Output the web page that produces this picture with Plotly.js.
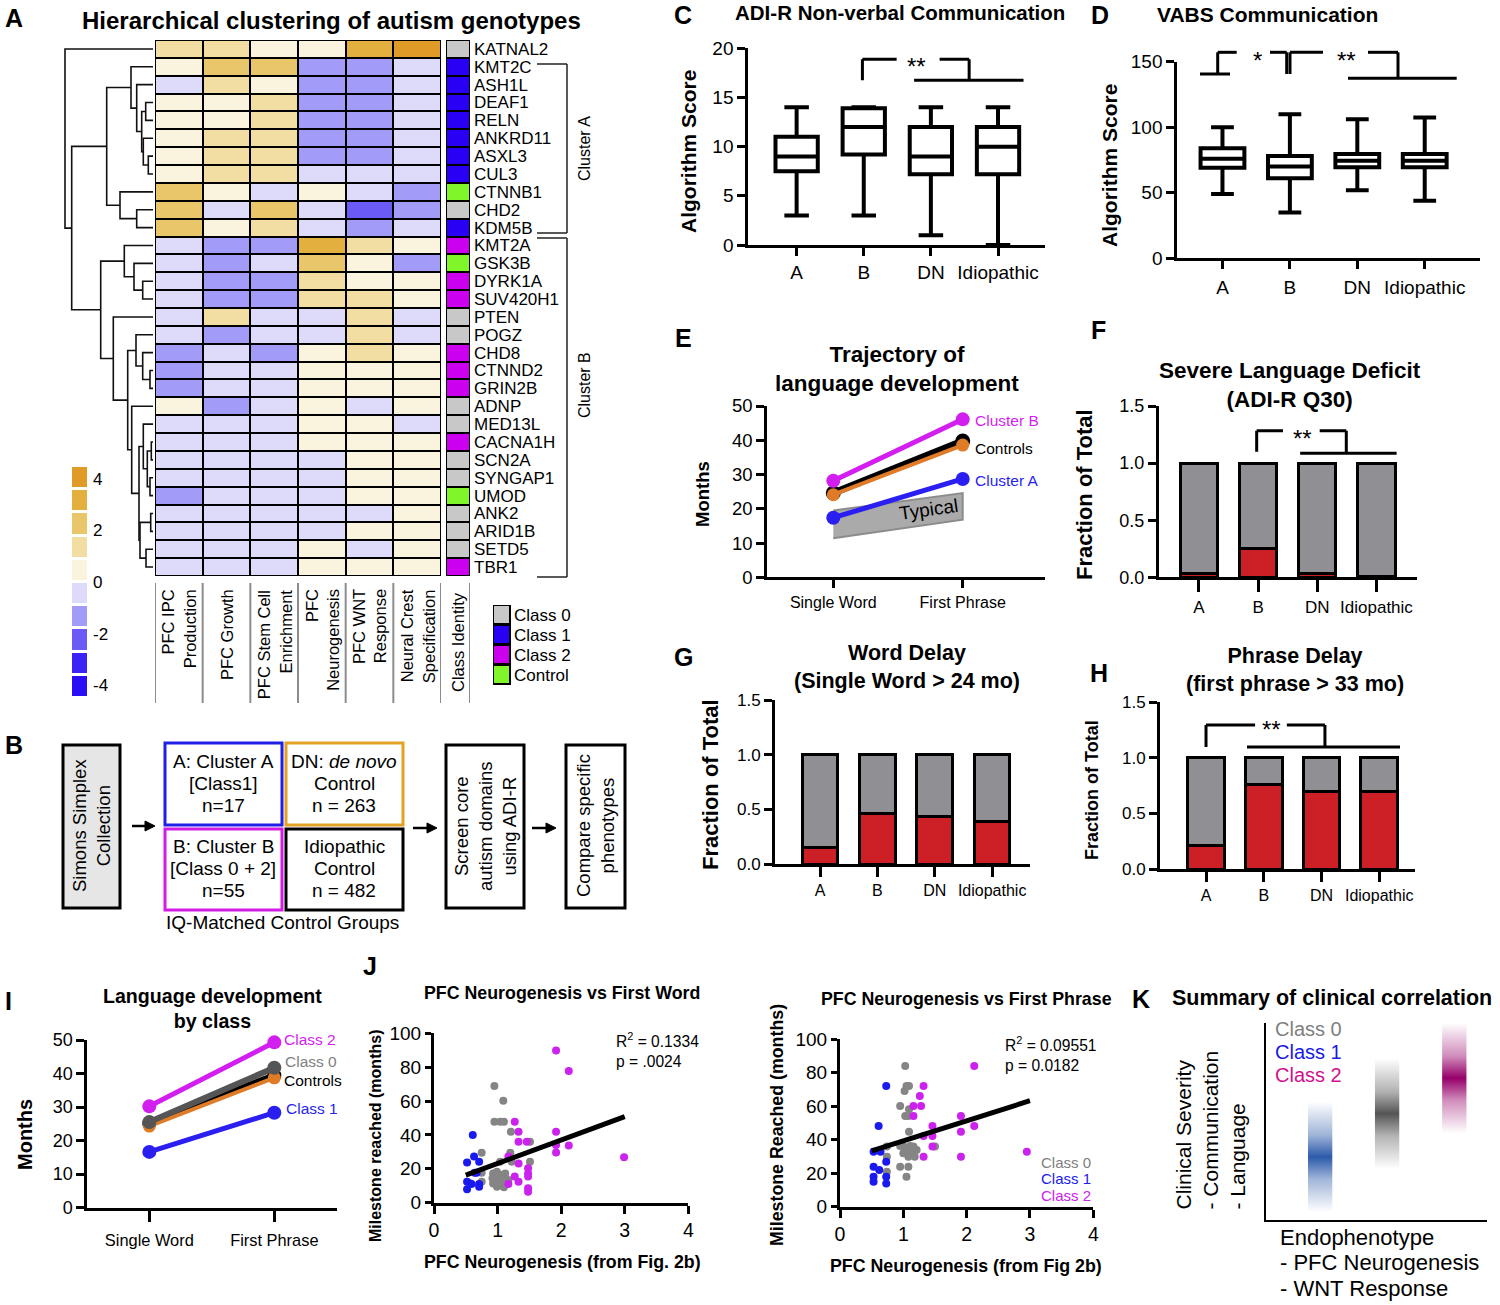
<!DOCTYPE html>
<html><head><meta charset="utf-8">
<script src="https://cdn.plot.ly/plotly-3.0.1.min.js"></script>
<style>html,body{margin:0;padding:0;background:#fff}#chart{width:1500px;height:1305px}</style>
</head><body><div id="chart"></div>
<script>
// ================= DATA =================
// Panel A
const genes = ['KATNAL2','KMT2C','ASH1L','DEAF1','RELN','ANKRD11','ASXL3','CUL3','CTNNB1','CHD2','KDM5B','KMT2A','GSK3B','DYRK1A','SUV420H1','PTEN','POGZ','CHD8','CTNND2','GRIN2B','ADNP','MED13L','CACNA1H','SCN2A','SYNGAP1','UMOD','ANK2','ARID1B','SETD5','TBR1'];
const modules = ['PFC IPC<br>Production','PFC Growth','PFC Stem Cell<br>Enrichment','PFC<br>Neurogenesis','PFC WNT<br>Response','Neural Crest<br>Specification'];
const moduleScores = [
 [1.35,1.35,0.45,0.45,3.15,4.05],
 [0.45,2.25,2.25,-1.35,-1.35,-0.45],
 [-0.45,1.35,0.45,-1.35,-1.35,-0.45],
 [0.45,0.45,1.35,-1.35,-1.35,-0.45],
 [0.45,0.45,1.35,-1.35,-1.35,-0.45],
 [0.45,1.35,1.35,-1.35,-1.35,-0.45],
 [0.45,1.35,1.35,-1.35,-1.35,-0.45],
 [0.45,1.35,1.35,-0.45,-0.45,-0.45],
 [2.25,0.45,-0.45,0.45,-0.45,-1.35],
 [2.25,-0.45,2.25,-0.45,-2.25,-1.35],
 [2.25,0.45,1.35,-0.45,-1.35,-0.45],
 [-0.45,-1.35,-1.35,3.15,1.35,0.45],
 [-0.45,-1.35,-0.45,2.25,0.45,-1.35],
 [-0.45,-1.35,-1.35,1.35,0.45,0.45],
 [-0.45,-1.35,-1.35,1.35,1.35,0.45],
 [-0.45,1.35,-0.45,-0.45,1.35,-0.45],
 [-0.45,-1.35,-0.45,-0.45,1.35,-0.45],
 [-1.35,-0.45,-1.35,0.45,1.35,0.45],
 [-1.35,-0.45,-0.45,0.45,0.45,0.45],
 [-1.35,-0.45,-0.45,0.45,0.45,0.45],
 [0.45,-1.35,-0.45,0.45,-0.45,0.45],
 [-0.45,-0.45,-0.45,0.45,0.45,-0.45],
 [-0.45,-0.45,-0.45,0.45,0.45,0.45],
 [-0.45,-0.45,-0.45,-0.45,0.45,0.45],
 [-0.45,-0.45,-0.45,-0.45,0.45,0.45],
 [-1.35,-0.45,-0.45,-0.45,0.45,0.45],
 [-0.45,-0.45,-0.45,-0.45,-0.45,0.45],
 [-0.45,-0.45,-0.45,-0.45,0.45,0.45],
 [-0.45,-0.45,-0.45,0.45,-0.45,0.45],
 [-0.45,-0.45,-0.45,0.45,0.45,0.45]
];
const classIdentity = [0,1,1,1,1,1,1,1,3,0,1,2,3,2,2,0,0,2,2,2,0,0,2,0,0,3,0,0,0,2];
const classNames = ['Class 0','Class 1','Class 2','Control'];
const classLegendIds = [0,1,2,3];
const colorKeyLevels = [4.05,3.15,2.25,1.35,0.45,-0.45,-1.35,-2.25,-3.15,-4.05];
const colorKeyTicks = [4,2,0,-2,-4];
// dendrogram: [left, right, merge height]
const dendrogram = ['KATNAL2', [
  [ ['KMT2C', ['ASH1L', [ ['DEAF1','RELN',7.3], ['ANKRD11', ['ASXL3','CUL3',4.7], 9.7], 11.3], 16.3], 22],
    ['CTNNB1', ['CHD2','KDM5B',16.3], 33], 46.3],
  [ ['KMT2A', ['GSK3B', ['DYRK1A','SUV420H1',10.3], 19], 28.7],
    ['PTEN', [ ['POGZ', ['CHD8', ['CTNND2','GRIN2B',3.0], 10.3], 17],
               ['ADNP', [ ['MED13L', [ ['CACNA1H','SCN2A',1.7], ['SYNGAP1','UMOD',3.0], 5.7], 9.7],
                          [ ['ANK2','ARID1B',2.3], ['SETD5','TBR1',7.0], 13], 14], 21.3], 25.3], 39.7], 52.3], 81.3], 88];

// Panels C, D (box plots)
const groups = ['A','B','DN','Idiopathic'];
const nvMin = [3,3,1,0], nvQ1 = [7.5,9.2,7.2,7.2], nvMed = [9,12,9,10], nvQ3 = [11,13.9,12,12], nvMax = [14,14,14,14];
const vabsMin = [49,35,52,44], vabsQ1 = [69,61,69.5,69.5], vabsMed = [76,70,74.5,74.5], vabsQ3 = [84,78,79.5,79.5], vabsMax = [100,110,106,107.5];

// Panel E
const milestones = ['Single Word','First Phrase'];
const clusterBMonths = [28.2,46.1];
const controlsMonths = [24.6,39.8];
const controlsDNMonths = [24.1,38.6];
const clusterAMonths = [17.4,28.7];
const typicalLow = [11.4,16.8];
const typicalHigh = [19.5,24.6];

// Panels F, G, H (fraction of total)
const q30Severe = [0.03,0.25,0.03,0.01];
const q30Other  = [0.97,0.75,0.97,0.99];
const wordDelayed = [0.15,0.46,0.43,0.39];
const wordOnTime  = [0.85,0.54,0.57,0.61];
const phraseDelayed = [0.21,0.76,0.70,0.70];
const phraseOnTime  = [0.79,0.24,0.30,0.30];

// Panel I
const class2Months = [30.2,49.3];
const class0Months = [25.5,41.7];
const ctrlAllMonths = [25.0,39.5];
const ctrlDNMonths = [24.3,38.7];
const class1Months = [16.6,28.3];

// Panel J (first word)
const fw1X = [0.52,0.52,0.52,0.57,0.59,0.61,0.63,0.64,0.67,0.71,0.71,0.71];
const fw1Y = [23.8,12.4,7.9,11.4,11,40,27.2,17.7,17.7,24.2,11,9.4];
const fw0X = [0.75,0.75,0.75,0.95,1.09,0.95,1.04,1.10,1.21,1.04,1.20,1.22,1.51,1.51,0.93,0.99,1.01,1.06,0.96,1.01,1.09,0.93,1.04,1.10,0.99,1.14,1.12,1.17,0.92];
const fw0Y = [29.5,17.7,12.4,68.9,60.2,47.8,47.8,47.8,41.9,24.2,29.5,24.2,36.0,24.2,17.3,18.3,15.4,16.3,13.4,12.4,13.4,11.4,10.4,9.1,9.4,12.4,17.3,13.4,14.4];
const fw2X = [1.27,1.33,1.33,1.46,1.17,1.33,1.27,1.33,1.17,1.48,1.48,1.48,1.48,1.48,1.92,2.12,1.92,1.92,1.92,2.12,2.99];
const fw2Y = [47.8,41.9,36,36,27.2,23.2,15.4,12.4,11,20.3,17.3,15.4,8.5,6.5,89.8,77.8,41.9,34,29.7,33.7,26.8];
const fwFitX = [0.5,3.0], fwFitY = [16.3,50.8];
// Panel J (first phrase)
const fp1X = [0.73,0.61,0.53,0.64,0.73,0.53,0.62,0.53,0.53,0.73,0.73];
const fp1Y = [72.1,48.2,32.9,32.9,26.9,23.9,21.9,17.9,14.9,17.9,13.9];
const fp0X = [1.03,1.05,1.09,1.02,0.95,1.09,1.03,1.08,1.09,0.74,0.74,0.74,0.95,1.00,1.05,1.11,1.16,1.13,1.08,1.18,1.00,0.95,1.08,1.05,1.50,1.21];
const fp0Y = [84.1,72.1,72.1,69.1,60.2,58.2,54.2,54.2,44.8,35.9,29.9,20.9,36.3,36.3,33.9,36.3,35.9,32.9,29.9,29.9,31.9,23.9,23.9,17.9,35.9,33.9];
const fp2X = [1.32,1.26,1.16,1.28,1.16,1.46,1.46,1.32,1.46,1.32,1.91,1.91,1.91,2.12,2.12,2.95];
const fp2Y = [72.1,66.1,60.2,60.2,54.2,48.2,42.2,42.2,35.9,29.9,54.2,44.8,29.9,48.2,84.1,32.9];
const fpFitX = [0.5,3.0], fpFitY = [33.3,63.3];

// Panel K (schematic)
const kClasses = ['Class 1','Class 0','Class 2'];
const kEndophenotype = [0.245,0.548,0.852];
const kSeverityLow = [0.04,0.26,0.44];
const kSeverityHigh = [0.60,0.82,1.0];
const kRGB = ['44,90,170','85,85,85','150,0,105'];

// ================= HELPERS =================
const FONT = 'Liberation Sans, Arial, Helvetica, sans-serif';
const W = 1500, H = 1305;
const PX = v => v / W, PY = v => 1 - v / H;
const XD = (a, b) => [a / W, b / W];
const YD = (t, b) => [1 - b / H, 1 - t / H];
const MAG = '#d21ff0', BLUE = '#2a1ff0', ORANGE = '#e07b28', RED = '#cc1f26', GRAYBAR = '#8f8f94';
const tf = (size) => ({family:FONT, size, color:'#000'});

function discrete(colors){ const n = colors.length, cs = []; colors.forEach((c,i)=>{ cs.push([i/n,c]); cs.push([(i+1)/n,c]); }); return cs; }
const heatScale = discrete(['#2a0cf5','#3d22f5','#6a5af6','#a29cf8','#dddbf9','#faf3dd','#f2dda3','#eac66b','#e3b03f','#e09a28']);
const classScale = discrete(['#c8c8c8','#2a00f5','#cc00ee','#7ff52a']);

function pa(domain, anchor, extra){
  return Object.assign({domain, anchor, showline:true, linecolor:'#000', linewidth:3, ticks:'outside', ticklen:8, tickwidth:3, tickcolor:'#000',
    showgrid:false, zeroline:false, fixedrange:true, tickfont:tf(19)}, extra);
}
const hidden = (domain, anchor, range) => ({domain, anchor, range, visible:false, fixedrange:true});

const ann = [];
function T(text,x,y,size,extra={},color='#000'){
  ann.push(Object.assign({text, x:PX(x), y:PY(y), xref:'paper', yref:'paper', showarrow:false, xanchor:'center', yanchor:'middle',
    font:{family:FONT,size,color}}, extra));
}
function Lines(arr,x,y0,dy,size,extra={}){ arr.forEach((t,i)=>T(t,x,y0+i*dy,size,extra)); }
const shapes = [];
function rectPx(x0,y0,x1,y1,color,fill){ shapes.push({type:'rect',xref:'paper',yref:'paper',x0:PX(x0),x1:PX(x1),y0:PY(y1),y1:PY(y0),line:{color,width:3},fillcolor:fill||'rgba(0,0,0,0)'}); }
function linePx(x0,y0,x1,y1,color='#000',width=3){ shapes.push({type:'line',xref:'paper',yref:'paper',x0:PX(x0),y0:PY(y0),x1:PX(x1),y1:PY(y1),line:{color,width}}); }
function lineAx(xa,ya,x0,y0,x1,y1,width=3){ shapes.push({type:'line',xref:xa,yref:ya,x0,y0,x1,y1,line:{color:'#000',width}}); }
function blackBg(xa,ya,x0,x1,y0,y1){ shapes.push({type:'rect',xref:xa,yref:ya,x0,x1,y0,y1,fillcolor:'#000',line:{width:0},layer:'below'}); }
function arrowPx(x0,x1,y){
  linePx(x0,y,x1-6,y,'#000',2.5);
  shapes.push({type:'path',xref:'paper',yref:'paper',path:`M ${PX(x1)} ${PY(y)} L ${PX(x1-10)} ${PY(y-5)} L ${PX(x1-10)} ${PY(y+5)} Z`,fillcolor:'#000',line:{color:'#000',width:1}});
}

// ================= TRACES =================
const traces = [];
// Panel A heatmap
traces.push({type:'heatmap', z:moduleScores, colorscale:heatScale, zmin:-4.5, zmax:4.5, showscale:false, xgap:2, ygap:2, xaxis:'x', yaxis:'y', hoverinfo:'skip'});
blackBg('x','y',-0.5,5.5,-0.5,29.5);
// dendrogram
const geneIndex = Object.fromEntries(genes.map((g,i)=>[g,i]));
const dX = [], dY = [];
function walk(node){
  if (typeof node === 'string') return {y:geneIndex[node], h:0};
  const a = walk(node[0]), b = walk(node[1]), h = node[2];
  dX.push(a.h, h, h, b.h, null); dY.push(a.y, a.y, b.y, b.y, null);
  return {y:(a.y+b.y)/2, h};
}
walk(dendrogram);
traces.push({type:'scatter', mode:'lines', x:dX, y:dY, line:{color:'#111',width:1.6}, xaxis:'x2', yaxis:'y', hoverinfo:'skip', connectgaps:false});
// class identity column
traces.push({type:'heatmap', z:classIdentity.map(c=>[c]), y:genes.map((g,i)=>i), x:[0], colorscale:classScale, zmin:-0.5, zmax:3.5, showscale:false, xgap:2, ygap:2, xaxis:'x3', yaxis:'y2', hoverinfo:'skip'});
blackBg('x3','y2',-0.5,0.5,-0.5,29.5);
// color key
traces.push({type:'heatmap', z:colorKeyLevels.map(v=>[v]), y:colorKeyLevels, x:[0], colorscale:heatScale, zmin:-4.5, zmax:4.5, showscale:false, ygap:3, xaxis:'x4', yaxis:'y3', hoverinfo:'skip'});
// class legend
traces.push({type:'heatmap', z:classLegendIds.map(c=>[c]), y:classLegendIds, x:[0], colorscale:classScale, zmin:-0.5, zmax:3.5, showscale:false, xgap:3, ygap:3, xaxis:'x5', yaxis:'y4', hoverinfo:'skip'});
blackBg('x5','y4',-0.5,0.5,-0.5,3.5);

// Panel C
traces.push({type:'box', x:groups, q1:nvQ1, median:nvMed, q3:nvQ3, lowerfence:nvMin, upperfence:nvMax, xaxis:'x6', yaxis:'y5',
  line:{color:'#000',width:4}, fillcolor:'#fff', width:0.63, whiskerwidth:0.58, boxpoints:false, hoverinfo:'skip'});
// Panel D
traces.push({type:'box', x:groups, q1:vabsQ1, median:vabsMed, q3:vabsQ3, lowerfence:vabsMin, upperfence:vabsMax, xaxis:'x7', yaxis:'y6',
  line:{color:'#000',width:4}, fillcolor:'#fff', width:0.65, whiskerwidth:0.52, boxpoints:false, hoverinfo:'skip'});

// Panel E
traces.push({type:'scatter', mode:'lines', x:[milestones[0],milestones[1],milestones[1],milestones[0]], y:[typicalLow[0],typicalLow[1],typicalHigh[1],typicalHigh[0]],
  fill:'toself', fillcolor:'#aaaaaa', line:{color:'#8c8c8c',width:2}, xaxis:'x8', yaxis:'y7', hoverinfo:'skip'});
function traj(y, color, xa, ya, w=5, ms=14){ traces.push({type:'scatter', mode:'lines+markers', x:milestones, y, line:{color,width:w}, marker:{color,size:ms}, xaxis:xa, yaxis:ya, hoverinfo:'skip', cliponaxis:false}); }
traj(clusterAMonths, BLUE, 'x8','y7');
traj(controlsMonths, '#000', 'x8','y7', 7, 15);
traj(controlsDNMonths, ORANGE, 'x8','y7', 4, 13);
traj(clusterBMonths, MAG, 'x8','y7');

// Panels F, G, H
function stack(red, gray, xa, ya, w){
  traces.push({type:'bar', x:groups, y:red, marker:{color:RED, line:{color:'#000',width:3}}, width:w, xaxis:xa, yaxis:ya, hoverinfo:'skip'});
  traces.push({type:'bar', x:groups, y:gray, marker:{color:GRAYBAR, line:{color:'#000',width:3}}, width:w, xaxis:xa, yaxis:ya, hoverinfo:'skip'});
}
stack(q30Severe, q30Other, 'x9','y8', 0.63);
stack(wordDelayed, wordOnTime, 'x10','y9', 0.62);
stack(phraseDelayed, phraseOnTime, 'x11','y10', 0.64);

// Panel I
traj(class1Months, BLUE, 'x12','y11');
traj(ctrlAllMonths, '#000', 'x12','y11', 6, 14);
traj(ctrlDNMonths, ORANGE, 'x12','y11', 4, 13);
traj(class0Months, '#555555', 'x12','y11', 6, 14);
traj(class2Months, MAG, 'x12','y11');

// Panel J
function pts(x,y,color,xa,ya){ traces.push({type:'scatter', mode:'markers', x, y, marker:{color,size:8}, xaxis:xa, yaxis:ya, hoverinfo:'skip'}); }
pts(fw0X, fw0Y, '#858585','x13','y12'); pts(fw1X, fw1Y, '#1a1aee','x13','y12'); pts(fw2X, fw2Y, '#cc22ee','x13','y12');
traces.push({type:'scatter', mode:'lines', x:fwFitX, y:fwFitY, line:{color:'#000',width:5}, xaxis:'x13', yaxis:'y12', hoverinfo:'skip'});
pts(fp0X, fp0Y, '#858585','x14','y13'); pts(fp1X, fp1Y, '#1a1aee','x14','y13'); pts(fp2X, fp2Y, '#cc22ee','x14','y13');
traces.push({type:'scatter', mode:'lines', x:fpFitX, y:fpFitY, line:{color:'#000',width:5}, xaxis:'x14', yaxis:'y13', hoverinfo:'skip'});

// Panel K
const kw = 0.055;
kClasses.forEach((c,i)=>{
  const x0 = kEndophenotype[i]-kw, x1 = kEndophenotype[i]+kw, lo = kSeverityLow[i], hi = kSeverityHigh[i], rgb = kRGB[i];
  traces.push({type:'scatter', mode:'lines', x:[x0,x1,x1,x0,x0], y:[lo,lo,hi,hi,lo], fill:'toself', line:{width:0,color:'rgba(0,0,0,0)'},
    fillcolor:'rgba('+rgb+',0.5)',
    fillgradient:{type:'vertical', colorscale:[[0,'rgba('+rgb+',0)'],[0.3,'rgba('+rgb+',0.45)'],[0.5,'rgba('+rgb+',1)'],[0.7,'rgba('+rgb+',0.45)'],[1,'rgba('+rgb+',0)']]},
    xaxis:'x15', yaxis:'y14', hoverinfo:'skip', name:c});
});

// ================= ANNOTATIONS & SHAPES =================
[['A',14,18],['B',14,745],['C',683,15],['D',1100,15],['E',683,338],['F',1098,330],['G',683,657],['H',1099,673],['I',8,1001],['J',370,966],['K',1141,999]]
  .forEach(([t,x,y])=>T('<b>'+t+'</b>',x,y,25));

// Panel A texts
T('<b>Hierarchical clustering of autism genotypes</b>',331,20,24);
modules.forEach((m,i)=>ann.push({text:m, x:i, xref:'x', y:PY(587), yref:'paper', textangle:-90, align:'right', xanchor:'center', yanchor:'top', showarrow:false, font:tf(16.5)}));
ann.push({text:'Class Identity', x:0, xref:'x3', y:PY(590), yref:'paper', textangle:-90, align:'right', xanchor:'center', yanchor:'top', showarrow:false, font:tf(16.5)});
for (let i=0;i<=6;i++) shapes.push({type:'line', xref:'x', yref:'paper', x0:i-0.5, x1:i-0.5, y0:PY(583), y1:PY(703), line:{color:'#8c8c8c',width:2}});
shapes.push({type:'line', xref:'x3', yref:'paper', x0:0.5, x1:0.5, y0:PY(583), y1:PY(703), line:{color:'#8c8c8c',width:2}});
T('Cluster A',584,149,16,{textangle:-90});
T('Cluster B',584,385,16,{textangle:-90});
linePx(537,64,567,64,'#222',1.5); linePx(567,64,567,233,'#222',1.5); linePx(537,233,567,233,'#222',1.5);
linePx(537,238,567,238,'#222',1.5); linePx(567,238,567,577,'#222',1.5); linePx(537,577,567,577,'#222',1.5);

// Panel B
rectPx(63,745,120,908,'#000','#e6e6e6');
rectPx(165,743,282,825,'#1f1fe6');
rectPx(286,743,403,825,'#e3a126');
rectPx(165,829,282,910,'#d21ce6');
rectPx(286,829,403,910,'#000');
rectPx(446,745,524,908,'#000');
rectPx(566,745,625,908,'#000');
T('Simons Simplex<br>Collection',92,826,18.5,{textangle:-90});
Lines(['A: Cluster A','[Class1]','n=17'],223,761,22,19);
Lines(['DN: <i>de novo</i>','Control','n = 263'],344,761,22,19);
Lines(['B: Cluster B','[Class 0 + 2]','n=55'],223,846,22,19);
Lines(['Idiopathic','Control','n = 482'],344,846,22,19);
T('IQ-Matched Control Groups',282,922,19);
T('Screen core<br>autism domains<br>using ADI-R',486,826,18.5,{textangle:-90});
T('Compare specific<br>phenotypes',596,826,18.5,{textangle:-90});
arrowPx(132,155,826); arrowPx(413,437,828); arrowPx(532,556,828);

// Panel C
T('<b>ADI-R Non-verbal Communication</b>',900,13,20.5);
T('<b>Algorithm Score</b>',689,152,21,{textangle:-90});
T('**',917,67,24);
lineAx('x6','y5',0.98,16.75,0.98,18.88); lineAx('x6','y5',0.98,18.88,1.49,18.88);
lineAx('x6','y5',2.13,18.88,2.57,18.88); lineAx('x6','y5',2.57,18.88,2.57,16.75); lineAx('x6','y5',1.75,16.75,3.38,16.75);

// Panel D (brackets above the axis range, drawn in page space)
T('<b>VABS Communication</b>',1267,14,21);
T('<b>Algorithm Score</b>',1109,166,21,{textangle:-90});
T('*',1257,61,24); T('**',1346,61,24);
linePx(1200,74,1230,74); linePx(1217.7,74,1217.7,52.3); linePx(1217.7,52.3,1236.7,52.3);
linePx(1270,52.3,1286.7,52.3); linePx(1286.7,52.3,1286.7,74);
linePx(1290,74,1290,52.3); linePx(1290,52.3,1323,52.3);
linePx(1368,52.3,1398,52.3); linePx(1398,52.3,1398,78.3); linePx(1348,78.3,1456.7,78.3);

// Panel E
T('<b>Trajectory of<br>language development</b>',897,369,22.5);
T('<b>Months</b>',702,494,18.5,{textangle:-90});
T('Cluster B',973,420,15.5,{xanchor:'left'},MAG);
T('Controls',973,449,15.5,{xanchor:'left'});
T('Cluster A',973,480,15.5,{xanchor:'left'},BLUE);
T('Typical',928,509,19,{textangle:-8});

// Panel F
T('<b>Severe Language Deficit<br>(ADI-R Q30)</b>',1290,385,22.5);
T('<b>Fraction of Total</b>',1084,495,22,{textangle:-90});
T('**',1302,438,24);
lineAx('x9','y8',0.975,1.10,0.975,1.284); lineAx('x9','y8',0.975,1.284,1.42,1.284);
lineAx('x9','y8',2.04,1.284,2.49,1.284); lineAx('x9','y8',2.49,1.284,2.49,1.086); lineAx('x9','y8',1.71,1.086,3.34,1.086);

// Panel G
T('<b>Word Delay<br>(Single Word > 24 mo)</b>',907,667,21.5);
T('<b>Fraction of Total</b>',710,785,22,{textangle:-90});

// Panel H
T('<b>Phrase Delay<br>(first phrase > 33 mo)</b>',1295,670,21.5);
T('<b>Fraction of Total</b>',1092,790,18,{textangle:-90});
T('**',1271,729,24);
lineAx('x11','y10',0,1.096,0,1.294); lineAx('x11','y10',0,1.294,0.85,1.294);
lineAx('x11','y10',1.40,1.294,2.06,1.294); lineAx('x11','y10',2.06,1.294,2.06,1.096); lineAx('x11','y10',0.71,1.096,3.36,1.096);

// Panel I
T('<b>Language development<br>by class</b>',213,1008,19.6);
T('<b>Months</b>',25,1135,20,{textangle:-90});
T('Class 2',282,1039,15.5,{xanchor:'left'},MAG);
T('Class 0',283,1061,15.5,{xanchor:'left'},'#808080');
T('Controls',282,1080,15.5,{xanchor:'left'});
T('Class 1',284,1108,15.5,{xanchor:'left'},BLUE);

// Panel J
T('<b>PFC Neurogenesis vs First Word</b>',562,993,17.8);
T('<b>Milestone reached (months)</b>',375,1136,16,{textangle:-90});
T('<b>PFC Neurogenesis (from Fig. 2b)</b>',562,1262,17.8);
T('R<sup>2</sup> = 0.1334<br>p = .0024',614,1050,15.6,{xanchor:'left',align:'left'});
T('<b>PFC Neurogenesis vs First Phrase</b>',966,999,17.8);
T('<b>Milestone Reached (months)</b>',777,1125,17.8,{textangle:-90});
T('<b>PFC Neurogenesis (from Fig 2b)</b>',966,1266,17.8);
T('R<sup>2</sup> = 0.09551<br>p = 0.0182',1003,1054,15.6,{xanchor:'left',align:'left'});
T('Class 0',1093,1162,15,{xanchor:'right'},'#808080');
T('Class 1',1093,1178,15,{xanchor:'right'},'#1a1aee');
T('Class 2',1093,1195,15,{xanchor:'right'},'#cc22ee');

// Panel K
T('<b>Summary of clinical correlation</b>',1332,998,21.5);
T('Class 0',1273,1029,20,{xanchor:'left'},'#808080');
T('Class 1',1273,1052,20,{xanchor:'left'},'#1a1ae6');
T('Class 2',1273,1075,20,{xanchor:'left'},'#d0108f');
T('Clinical Severity<br>- Communication<br>- Language',1210,1212,21,{textangle:-90,align:'left',yanchor:'bottom'});
Lines(['Endophenotype','- PFC Neurogenesis','- WNT Response'],1278,1237,25.7,22,{xanchor:'left'});

// ================= LAYOUT =================
const catTicks = (size, len, standoff) => ({tickfont:tf(size), ticklen:len, ticklabelstandoff:standoff});
const layout = {
  width:W, height:H, margin:{l:0,r:0,t:0,b:0}, paper_bgcolor:'#fff', plot_bgcolor:'rgba(0,0,0,0)',
  showlegend:false, hovermode:false, barmode:'stack', font:{family:FONT,color:'#000'},
  xaxis: hidden(XD(155,441),'y',[-0.5,5.5]),
  yaxis: hidden(YD(40,576),'x',[29.5,-0.5]),
  xaxis2: hidden(XD(60,153),'y',[93,0]),
  xaxis3: hidden(XD(446,470),'y2',[-0.5,0.5]),
  yaxis2: {domain:YD(40,576), anchor:'x3', range:[29.5,-0.5], side:'right', tickvals:genes.map((g,i)=>i), ticktext:genes, showline:false, ticks:'', ticklabelstandoff:3, showgrid:false, zeroline:false, fixedrange:true, tickfont:tf(17)},
  xaxis4: hidden(XD(72,87),'y3',[-0.5,0.5]),
  yaxis3: {domain:YD(466,698), anchor:'x4', range:[-4.5,4.5], side:'right', tickvals:colorKeyTicks, ticktext:colorKeyTicks.map(String), showline:false, ticks:'', ticklabelstandoff:5, showgrid:false, zeroline:false, fixedrange:true, tickfont:tf(17)},
  xaxis5: hidden(XD(493,511),'y4',[-0.5,0.5]),
  yaxis4: {domain:YD(605,685), anchor:'x5', range:[3.5,-0.5], side:'right', tickvals:classLegendIds, ticktext:classNames, showline:false, ticks:'', ticklabelstandoff:2, showgrid:false, zeroline:false, fixedrange:true, tickfont:tf(17)},
  xaxis6: pa(XD(748.3,1045),'y5',Object.assign({type:'category', categoryarray:groups, range:[-0.72,3.70]}, catTicks(19,8,0))),
  yaxis5: pa(YD(48.3,245),'x6',{range:[0,20], tickvals:[0,5,10,15,20]}),
  xaxis7: pa(XD(1177.3,1480),'y6',Object.assign({type:'category', categoryarray:groups, range:[-0.67,3.82]}, catTicks(19,8,2))),
  yaxis6: pa(YD(61.7,258.3),'x7',{range:[0,150], tickvals:[0,50,100,150]}),
  xaxis8: pa(XD(767.3,1045),'y7',Object.assign({type:'category', categoryarray:milestones, range:[-0.51,1.636]}, catTicks(16,8,0))),
  yaxis7: pa(YD(406,577.3),'x8',{range:[0,50], dtick:10, tickfont:tf(18.5)}),
  xaxis9: pa(XD(1159,1416.7),'y8',Object.assign({type:'category', categoryarray:groups, range:[-0.676,3.68]}, catTicks(17,12,0))),
  yaxis8: pa(YD(406,577.3),'x9',{range:[0,1.5], tickvals:[0,0.5,1,1.5], tickformat:'.1f', tickfont:tf(18)}),
  xaxis10: pa(XD(775,1030),'y9',Object.assign({type:'category', categoryarray:groups, range:[-0.785,3.66]}, catTicks(16,10,0))),
  yaxis9: pa(YD(700,864),'x10',{range:[0,1.5], tickvals:[0,0.5,1,1.5], tickformat:'.1f', tickfont:tf(17)}),
  xaxis11: pa(XD(1160,1415),'y10',Object.assign({type:'category', categoryarray:groups, range:[-0.797,3.62]}, catTicks(16,10,0))),
  yaxis10: pa(YD(702,869),'x11',{range:[0,1.5], tickvals:[0,0.5,1,1.5], tickformat:'.1f', tickfont:tf(17)}),
  xaxis12: pa(XD(87.3,336.7),'y11',Object.assign({type:'category', categoryarray:milestones, range:[-0.496,1.499]}, catTicks(16.4,11,5))),
  yaxis11: pa(YD(1040,1207.5),'x12',{range:[0,50], dtick:10, tickfont:tf(18)}),
  xaxis13: pa(XD(434,688.3),'y12',{range:[0,4], dtick:1, tickfont:tf(19.5)}),
  yaxis12: pa(YD(1033.3,1202.7),'x13',{range:[0,100], dtick:20, ticklen:6, tickfont:tf(19)}),
  xaxis14: pa(XD(840,1093.3),'y13',{range:[0,4], dtick:1, tickfont:tf(19.5)}),
  yaxis13: pa(YD(1039.3,1206.7),'x14',{range:[0,100], dtick:20, ticklen:6, tickfont:tf(19)}),
  xaxis15: pa(XD(1266,1487),'y14',{range:[0,1], ticks:'', showticklabels:false, linewidth:2}),
  yaxis14: pa(YD(1023,1220),'x15',{range:[0,1], ticks:'', showticklabels:false, linewidth:2}),
  annotations: ann, shapes: shapes
};
Plotly.newPlot('chart', traces, layout, {staticPlot:true, displayModeBar:false});
</script></body></html>
